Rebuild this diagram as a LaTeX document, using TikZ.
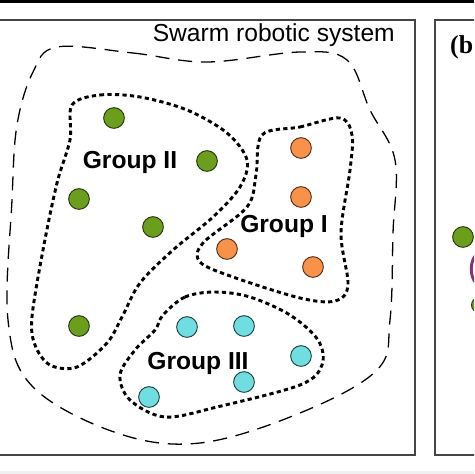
\documentclass[tikz,border=0pt]{standalone}
\usepackage{fontspec}
\setmainfont{Liberation Serif}
\setsansfont{Liberation Sans}
\usetikzlibrary{calc}
\definecolor{robgreen}{HTML}{6A9E1C}
\definecolor{robgreenedge}{HTML}{26380E}
\definecolor{roborange}{HTML}{F8914A}
\definecolor{roborangeedge}{HTML}{54301C}
\definecolor{robcyan}{HTML}{70DDE0}
\definecolor{robcyanedge}{HTML}{1D4446}
\definecolor{framegray}{HTML}{454545}
\tikzstyle{robot}=[circle,thick,minimum size=0.62cm,inner sep=0pt]
\tikzstyle{rgreen}=[robot,draw=robgreenedge,fill=robgreen]
\tikzstyle{rorange}=[robot,draw=roborangeedge,fill=roborange]
\tikzstyle{rcyan}=[robot,draw=robcyanedge,fill=robcyan]
\tikzstyle{grouplab}=[font=\sffamily\bfseries\fontsize{21}{24}\selectfont,inner sep=0pt]
\tikzstyle{swarmline}=[line width=1.1pt,dash pattern=on 12pt off 7.5pt]
\tikzstyle{groupline}=[line width=2.5pt,dash pattern=on 3.6pt off 2.8pt]
\tikzstyle{panel}=[draw=framegray,line width=1.4pt]

\begin{document}
\begin{tikzpicture}[x=0.03cm,y=-0.03cm]
	\useasboundingbox (0,0) rectangle (474,474);
	\clip (0,0) rectangle (474,474);
	
	% frames
	\fill[black] (0,0) rectangle (474,3);
	\fill[gray!12] (0,471) rectangle (474,474);
	\draw[panel] (-5,20) -- (415,20) -- (415,455) -- (-5,455);
	\draw[panel] (480,20) -- (435,20) -- (435,455) -- (480,455);
	
	\node[font=\sffamily\fontsize{21}{24}\selectfont,anchor=east,inner sep=0pt] (title) at (395,35) {Swarm robotic system};
	\node[font=\bfseries\fontsize{22}{26}\selectfont,anchor=west,inner sep=0pt] (blab) at (450,47) {(b};
	
	% whole swarm
	\draw[swarmline] plot[smooth cycle,tension=0.6] coordinates {
		(57,47) (133,53) (207,62) (300,52) (347,60) (370,110) (395,160)
		(393,233) (390,320) (377,370) (300,413) (200,443) (117,433)
		(33,387) (8,320) (12,200) (17,125) (33,72)};
	
	% group II
	\draw[groupline] plot[smooth cycle,tension=0.55] coordinates {
		(72,105) (100,95) (140,97) (187,110) (227,133) (247,160) (240,187)
		(213,217) (173,250) (140,283) (123,315) (107,343) (77,367) (50,365)
		(35,345) (32,317) (43,250) (57,183) (70,140)};
	
	% group I
	\draw[groupline] plot[smooth cycle,tension=0.55] coordinates {
		(262,135) (300,127) (340,118) (352,135) (350,170) (341,233) (348,285)
		(335,301) (300,298) (233,277) (200,262) (203,243) (247,207) (256,175)};
	
	% group III
	\draw[groupline] plot[smooth cycle,tension=0.55] coordinates {
		(163,315) (185,297) (215,292) (250,297) (290,315) (318,340) (322,365)
		(300,385) (217,407) (165,417) (130,400) (120,375) (135,350) (155,330)};
	
	\node[rgreen] (g1) at (114,118) {};
	\node[rgreen] (g2) at (207,161) {};
	\node[rgreen] (g3) at (79,199) {};
	\node[rgreen] (g4) at (153,227) {};
	\node[rgreen] (g5) at (79,326) {};
	
	\node[rorange] (o1) at (301,148) {};
	\node[rorange] (o2) at (301,197) {};
	\node[rorange] (o3) at (227,249) {};
	\node[rorange] (o4) at (313,267) {};
	
	\node[rcyan] (c1) at (187,327) {};
	\node[rcyan] (c2) at (244,326) {};
	\node[rcyan] (c3) at (301,356) {};
	\node[rcyan] (c4) at (244,382) {};
	\node[rcyan] (c5) at (149,397) {};
	
	\node[grouplab] (grpII) at (130,162) {Group II};
	\node[grouplab] (grpI) at (284,226) {Group I};
	\node[grouplab] (grpIII) at (198,363) {Group III};
	
	% panel (b), cut off
	\node[rgreen] (bg1) at (463,237) {};
	\draw[violet!60!gray,line width=2.5pt] (475,256) .. controls (470,263) and (470,275) .. (475,282);
	\node[rgreen,minimum size=0.45cm] (bg2) at (479,305) {};
\end{tikzpicture}
\end{document}
